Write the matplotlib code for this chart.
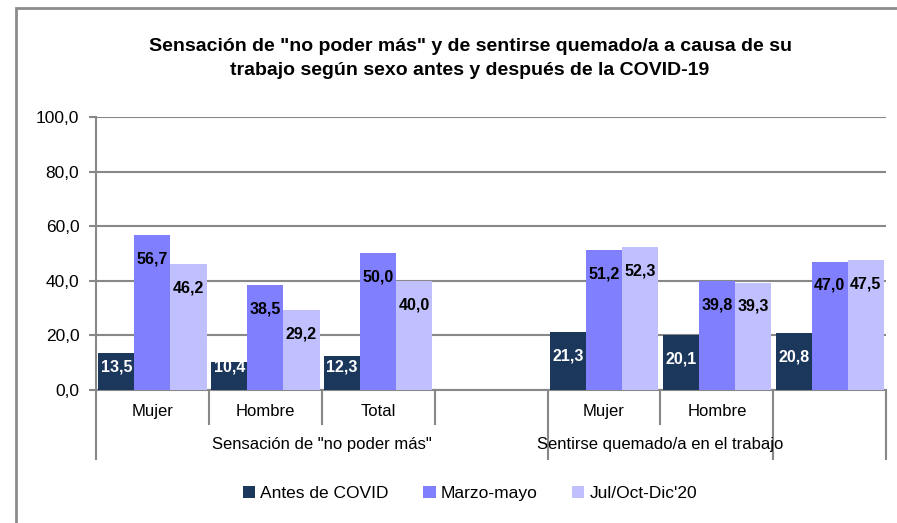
import matplotlib
matplotlib.use("Agg")
import matplotlib.pyplot as plt
from matplotlib.lines import Line2D
from matplotlib.patches import Rectangle
import numpy as np

plt.rcParams["font.family"] = ["Liberation Sans", "DejaVu Sans"]

# Datos (NaN = hueco entre grupos)
categorias = ["Mujer", "Hombre", "Total", "", "Mujer", "Hombre", ""]
grupos = ['Sensación de "no poder más"', "Sentirse quemado/a en el trabajo", ""]
grupo_rango = [(0, 3), (4, 5), (6, 6)]
series = ["Antes de COVID", "Marzo-mayo", "Jul/Oct-Dic'20"]
antes = [13.5, 10.4, 12.3, np.nan, 21.3, 20.1, 20.8]
marzo = [56.7, 38.5, 50.0, np.nan, 51.2, 39.8, 47.0]
julio = [46.2, 29.2, 40.0, np.nan, 52.3, 39.3, 47.5]
colores = ["#1b375c", "#8080ff", "#c0c0ff"]
color_texto = ["white", "black", "black"]

titulo = ('Sensación de "no poder más" y de sentirse quemado/a a causa de su\n'
          "trabajo según sexo antes y después de la COVID-19")

fig = plt.figure(figsize=(8.97, 5.23), dpi=100)
ax = fig.add_axes([0.107, 0.2543, 0.881, 0.522])

# marco exterior del gráfico
fig.patches.append(Rectangle((16 / 897, -0.1), 1.2, 1 - 8 / 523 + 0.1,
                             transform=fig.transFigure, fill=False,
                             edgecolor="#8c8c8c", linewidth=2))

x = np.arange(len(categorias))
ancho = 0.32
for i, (vals, col, ct) in enumerate(zip([antes, marzo, julio], colores, color_texto)):
    pos = x + (i - 1) * ancho
    ax.bar(pos, vals, width=ancho, color=col, label=series[i], zorder=3)
    for p, v in zip(pos, vals):
        if np.isnan(v):
            continue
        ax.text(p, max(v - 8.7, 8.3), f"{v:.1f}".replace(".", ","),
                ha="center", va="center", color=ct, fontsize=11.5,
                fontweight="bold", zorder=4)

ax.set_xlim(-0.5, len(categorias) - 0.5)
ax.set_ylim(0, 100)
ax.set_yticks(np.arange(0, 101, 20))
ax.set_yticklabels([f"{t:.1f}".replace(".", ",") for t in np.arange(0, 101, 20)],
                   fontsize=12.5)
ax.grid(axis="y", color="#888888", linewidth=1.5, zorder=0)
ax.tick_params(axis="y", length=5, width=1.5, color="#888888", pad=7)
ax.set_xticks([])
for s in ["top", "right"]:
    ax.spines[s].set_visible(False)
for s in ["left", "bottom"]:
    ax.spines[s].set_color("#888888")
    ax.spines[s].set_linewidth(1.5)

# ejes de categorías en dos niveles
trans = ax.get_xaxis_transform()
for b in np.arange(-0.5, len(categorias), 1.0):
    ext = any(abs(b - (g[0] - 0.5)) < 1e-6 or abs(b - (g[1] + 0.5)) < 1e-6
              for g in grupo_rango)
    y_fin = -0.253 if ext else -0.125
    ax.add_line(Line2D([b, b], [0, y_fin], transform=trans, color="#888888",
                       linewidth=1.5, clip_on=False))
for xi, c in zip(x, categorias):
    ax.text(xi, -0.077, c, transform=trans, ha="center", va="center", fontsize=12)
for (a, b), g in zip(grupo_rango, grupos):
    ax.text((a + b) / 2, -0.198, g, transform=trans, ha="center", va="center",
            fontsize=12)

fig.text(0.524, 0.888, titulo, ha="center", va="center", fontsize=14,
         fontweight="bold", linespacing=1.58)

leg = fig.legend(loc="center", bbox_to_anchor=(0.524, 0.057), ncol=3,
                 frameon=False, fontsize=12.5, handlelength=0.7, handleheight=0.7,
                 handletextpad=0.3, columnspacing=2.0)

fig.savefig("out.png", dpi=100)
